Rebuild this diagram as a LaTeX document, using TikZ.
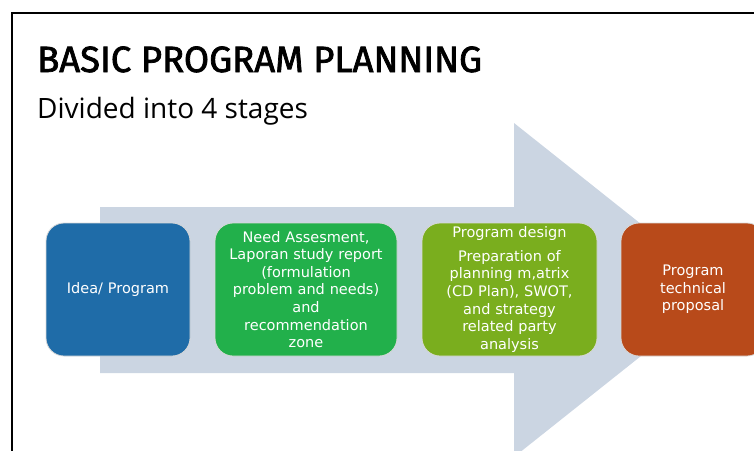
\documentclass[tikz,border=0pt]{standalone}
\usepackage{fontspec}
\setmainfont{Open Sans}
\newfontfamily\titlefont[FakeBold=2]{Fira Sans}
\newfontfamily\boxfont{DejaVu Sans}
\definecolor{arrowc}{RGB}{203,213,226}
\definecolor{bluec}{RGB}{31,108,168}
\definecolor{greenc}{RGB}{34,176,75}
\definecolor{olivec}{RGB}{122,174,30}
\definecolor{orangec}{RGB}{184,74,26}
\begin{document}
\begin{tikzpicture}[x=1pt,y=-1pt,
  stagebox/.style={rounded corners=18pt, draw=white!85!black, line width=0.8pt,
    text=white, align=center, minimum height=133pt, inner sep=2pt,
    font=\boxfont\fontsize{14.5}{17.6}\selectfont}]
\useasboundingbox (0,0) rectangle (754,450);
\begin{scope}
\clip (0,0) rectangle (754,450);
% frame
\draw[line width=2.5pt] (12,470) -- (12,13) -- (770,13);
% big arrow
\fill[arrowc] (100,207) -- (514,207) -- (514,123) -- (724,290) -- (514,457) -- (514,373) -- (100,373) -- cycle;
% boxes
\node[stagebox, fill=bluec, minimum width=144pt, text width=140pt] (idea) at (118,289.5) {Idea/ Program};
\node[stagebox, fill=greenc, minimum width=182pt, text width=178pt] (need) at (306,289.5)
  {Need Assesment,\\ Laporan study report\\ (formulation\\ problem and needs)\\ and\\ recommendation\\ zone};
\node[stagebox, fill=olivec, minimum width=175pt, text width=171pt] (design) at (509.5,289.5)
  {Program design\\[6pt] Preparation of\\ planning m,atrix\\ (CD Plan), SWOT,\\ and strategy\\ related party\\ analysis};
\node[stagebox, fill=orangec, minimum width=144pt, text width=140pt] (prop) at (693,289.5)
  {Program\\ technical\\ proposal};
% titles
\node[anchor=base west, inner sep=0, font=\titlefont\fontsize{36.5}{42}\selectfont] (title) at (37,72) {BASIC PROGRAM PLANNING};
\node[anchor=base west, inner sep=0, font=\fontsize{28}{32}\selectfont] (sub) at (37,118) {Divided into 4 stages};
\end{scope}
\end{tikzpicture}
\end{document}
